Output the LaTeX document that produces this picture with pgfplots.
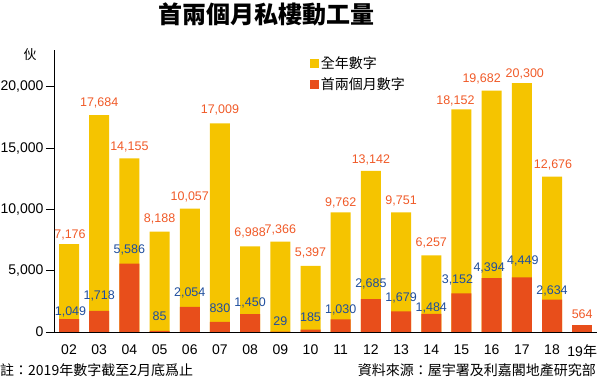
\documentclass[border=0pt]{standalone}
\usepackage{pgfplots}
\pgfplotsset{compat=1.18}
\usepackage{pgfplotstable}
\usepackage{fontspec}
\setmainfont{Liberation Sans}
\newfontfamily\cjk{Noto Sans CJK TC}
\definecolor{cyel}{HTML}{F5C400}
\definecolor{corg}{HTML}{E84E1B}
\definecolor{ctxt}{HTML}{F05A28}
\definecolor{cblue}{HTML}{1F4E9E}
\pgfplotstableread{
x full dy dx
0 7176 5.7 1
1 17684 8.3 0
2 14155 8.3 0
3 8188 8.7 0
4 10057 8 0
5 17009 10 0
6 6988 10 0
7 7366 7.7 0
8 5397 9 0
9 9762 5.7 0
10 13142 7.7 0
11 9751 8 0
12 6257 9 0
13 18152 5 -6
14 19682 8.4 -10
15 20300 6 3
16 12676 8.5 1
}\fulltab
\pgfplotstableread{
x first dy dx
0 1049 3.5 1.5
1 1718 11.5 0
2 5586 10 0
3 85 10 0
4 2054 10 0
5 830 9 0
6 1450 8 0
7 29 6 0
8 185 8 0
9 1030 6 0
10 2685 12 0
11 1679 10 0
12 1484 2 0
13 3152 10 -4
14 4394 7 -2.5
15 4449 13 1
16 2634 5 0
}\firsttab
\pgfplotstableread{
x first dy dx
17 564 7 0
}\lasttab
\begin{document}
\begin{tikzpicture}
\path[use as bounding box] (0,0) rectangle (600bp,378bp);
\begin{axis}[
  at={(54bp,46bp)}, anchor=south west,
  scale only axis, width=543bp, height=282bp,
  xmin=-0.497, xmax=17.49, ymin=0, ymax=23000,
  axis x line*=bottom, axis y line*=left,
  axis line style={-, black, line width=0.7pt},
  ytick={0,5000,10000,15000,20000},
  scaled y ticks=false,
  xtick={0,...,17},
  xticklabels={02,03,04,05,06,07,08,09,10,11,12,13,14,15,16,17,18,{19{\cjk 年}}},
  x tick style={draw=none},
  y tick style={black, line width=0.7pt},
  tick align=outside, major tick length=8bp,
  tick label style={font=\fontsize{14bp}{14bp}\selectfont},
  yticklabel style={xshift=1bp},
  xticklabel style={yshift=-1bp},
  /pgf/number format/1000 sep={,},
  /pgf/number format/assume math mode=true,
  legend style={at={(0.471,0.985)}, anchor=north west, draw=none, fill=none,
    font=\cjk\fontsize{14bp}{14bp}\selectfont, row sep=4bp, inner sep=0pt},
  legend cell align=left,
  clip=false,
]
\addplot[ybar, fill=cyel, draw=none, bar width=20bp, bar shift=0pt,
  legend image code/.code={\fill[cyel] (0bp,-4.5bp) rectangle (9bp,4.5bp);},
  visualization depends on={\thisrow{dy} \as \dy},
  visualization depends on={\thisrow{dx} \as \dx},
  nodes near coords,
  every node near coord/.append style={ctxt, font=\fontsize{12.5bp}{12.5bp}\selectfont, anchor=base, yshift=\dy*1bp, xshift=\dx*1bp}]
  table[x=x,y=full]{\fulltab};
\addlegendentry{全年數字}
\addplot[ybar, fill=corg, draw=none, bar width=20bp, bar shift=0pt,
  legend image code/.code={\fill[corg] (0bp,-4.5bp) rectangle (9bp,4.5bp);},
  visualization depends on={\thisrow{dy} \as \dy},
  visualization depends on={\thisrow{dx} \as \dx},
  nodes near coords,
  every node near coord/.append style={cblue, font=\fontsize{12.5bp}{12.5bp}\selectfont, anchor=base, yshift=\dy*1bp, xshift=\dx*1bp}]
  table[x=x,y=first]{\firsttab};
\addlegendentry{首兩個月數字}
\addplot[ybar, fill=corg, draw=none, bar width=20bp, bar shift=0pt, forget plot,
  visualization depends on={\thisrow{dy} \as \dy},
  nodes near coords,
  every node near coord/.append style={ctxt, font=\fontsize{12.5bp}{12.5bp}\selectfont, anchor=base, yshift=\dy*1bp}]
  table[x=x,y=first]{\lasttab};
\end{axis}
\node[font=\cjk\bfseries\fontsize{24bp}{24bp}\selectfont, anchor=center] at (266bp,364bp) {首兩個月私樓動工量};
\node[font=\cjk\fontsize{13bp}{13bp}\selectfont, anchor=center] at (30bp,323bp) {伙};
\node[font=\cjk\fontsize{14bp}{14bp}\selectfont, anchor=west, inner sep=0pt] at (0bp,8bp) {註：2019年數字截至2月底爲止};
\node[font=\cjk\fontsize{14bp}{14bp}\selectfont, anchor=east, inner sep=0pt] at (596bp,8bp) {資料來源：屋宇署及利嘉閣地產研究部};
\end{tikzpicture}
\end{document}
